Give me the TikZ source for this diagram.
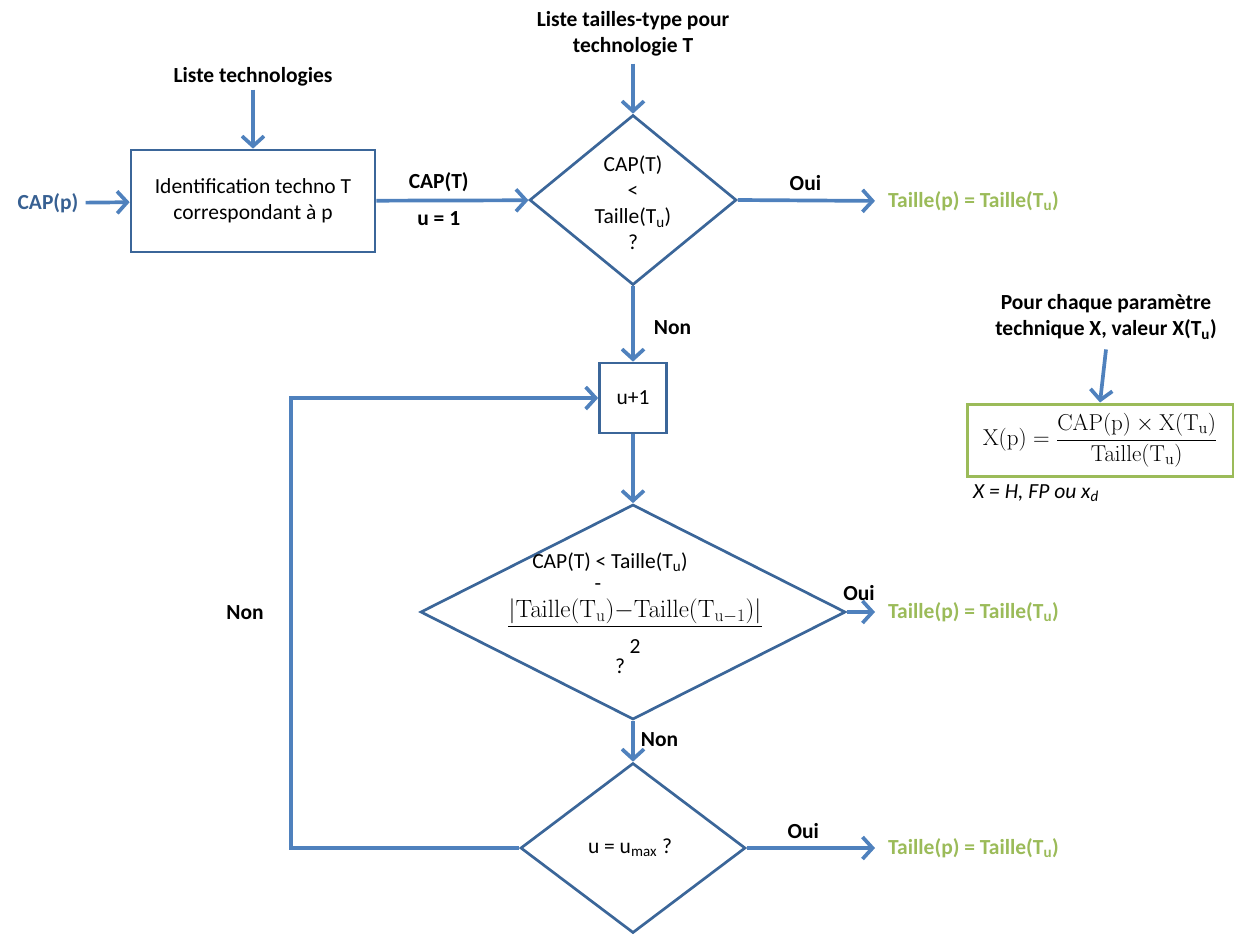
\RequirePackage{fix-cm}
\documentclass[tikz,border=0pt]{standalone}
\usepackage[no-math]{fontspec}
\setmainfont{Carlito}
\usetikzlibrary{arrows.meta,shapes.geometric}
\definecolor{arr}{HTML}{4F81BD}
\definecolor{outl}{HTML}{3B6699}
\definecolor{grn}{HTML}{9BBB59}
\definecolor{capblue}{HTML}{376092}
\begin{document}
\begin{tikzpicture}[x=1pt,y=-1pt,
  every node/.style={font=\fontsize{21.5}{26}\selectfont, inner sep=3pt},
  flow/.style={draw=arr, line width=3.7pt, -{Straight Barb[length=10pt,width=22pt,line width=3.7pt]}},
  procbox/.style={draw=outl, line width=2.7pt, rectangle, inner sep=0pt, align=center},
  decision/.style={draw=outl, line width=2.7pt, diamond, inner sep=0pt, align=center},
  lbl/.style={font=\bfseries\fontsize{21.5}{26}\selectfont},
  res/.style={font=\bfseries\fontsize{21.5}{26}\selectfont, text=grn, anchor=west, inner sep=0pt},
  math/.style={font=\fontsize{25}{30}\selectfont, inner sep=0pt}
]
\useasboundingbox (0,0) rectangle (1234,935);

% first row
\node[lbl, text=capblue] (capp) at (48,203) {CAP(p)};
\node[procbox, minimum width=244pt, minimum height=102pt] (box1) at (253,201) {Identification techno T\\correspondant à p};
\node[lbl] (listtech) at (253,77) {Liste technologies};
\node[decision, minimum width=207pt, minimum height=170pt] (d1) at (633,200) {};
\node[align=center, inner sep=0pt] (d1txt) at (633,203) {CAP(T)\\<\\Taille(T\textsubscript{u})\\?};
\node[lbl, align=center, inner sep=0pt] (listtaille) at (633,34) {Liste tailles-type pour\\technologie T};
\node[res] (ok1) at (888,201) {Taille(p) = Taille(T\textsubscript{u})};

\draw[flow, shorten <=4pt] (capp) -- (box1);
\draw[flow] (listtech) -- (box1);
\draw[flow] (listtaille.south) ++(0,7) coordinate (lt) (lt) -- (d1.north);
\draw[flow] (box1) -- node[lbl, pos=0.41, above=4pt] (capT) {CAP(T)} node[lbl, pos=0.41, below=6pt] (u1) {u = 1} (d1);
\draw[flow, shorten >=13pt] (d1.east) -- node[lbl, pos=0.45, above=5pt] (oui1) {Oui} (ok1.west);

% u+1
\node[procbox, minimum width=67pt, minimum height=70pt] (inc) at (633,398) {u+1};
\draw[flow] (d1.south) -- node[lbl, right=16pt, pos=0.55] (non1) {Non} (inc.north);

% second decision
\node[decision, minimum width=425pt, minimum height=215pt] (d2) at (633,612) {};
\draw[flow] (inc.south) -- (d2.north);
\node (c1) at (610,562) {CAP(T) < Taille(T\textsubscript{u})};
\node (c2) at (598,587) {-};
\node[math] (c3) at (635,611) {$\mathrm{|Taille(T_u){-}Taille(T_{u-1})|}$};
\draw[line width=1.3pt] (c3.south west) ++(0,3) coordinate (bl) (c3.south east) ++(0,3) coordinate (br) (bl) -- (br);
\node (c4) at (635,647) {2};
\node (c5) at (620,666) {?};
\node[res] (ok2) at (888,612) {Taille(p) = Taille(T\textsubscript{u})};
\draw[flow, shorten >=13pt] (d2.east) -- (ok2.west);
\node[lbl] (oui2) at (859,593) {Oui};

% third decision
\node[decision, minimum width=225pt, minimum height=170pt] (d3) at (633,848) {};
\node (d3txt) at (630,848) {u = u\textsubscript{max} ?};
\draw[flow] (d2.south) -- node[lbl, right=3pt, pos=0.45] (non2) {Non} (d3.north);
\node[res] (ok3) at (888,848) {Taille(p) = Taille(T\textsubscript{u})};
\draw[flow, shorten >=13pt] (d3.east) -- node[lbl, pos=0.4, above=5pt] (oui3) {Oui} (ok3.west);

% loop
\coordinate (lp) at (291,848);
\draw[flow] (d3.west) -- (lp) |- (inc.west);
\node[lbl] (non3) at (245,613) {Non};

% right formula
\node[lbl, align=center, inner sep=0pt] (pour) at (1106,317) {Pour chaque paramètre\\technique X, valeur X(T\textsubscript{u})};
\node[draw=grn, line width=3pt, minimum width=266pt, minimum height=72pt, inner sep=0pt] (gbox) at (1100,440)
  {\fontsize{23}{28}\selectfont$\displaystyle\mathrm{X(p)} = \frac{\mathrm{CAP(p)}\times \mathrm{X(T_u)}}{\mathrm{Taille(T_u)}}$};
\draw[flow] (pour.south) ++(0,10) coordinate (ps) (ps) -- (gbox.north);
\node[anchor=west, inner sep=0pt] (xeq) at (973,493) {\itshape X = H, FP ou x\textsubscript{d}};
\end{tikzpicture}
\end{document}
